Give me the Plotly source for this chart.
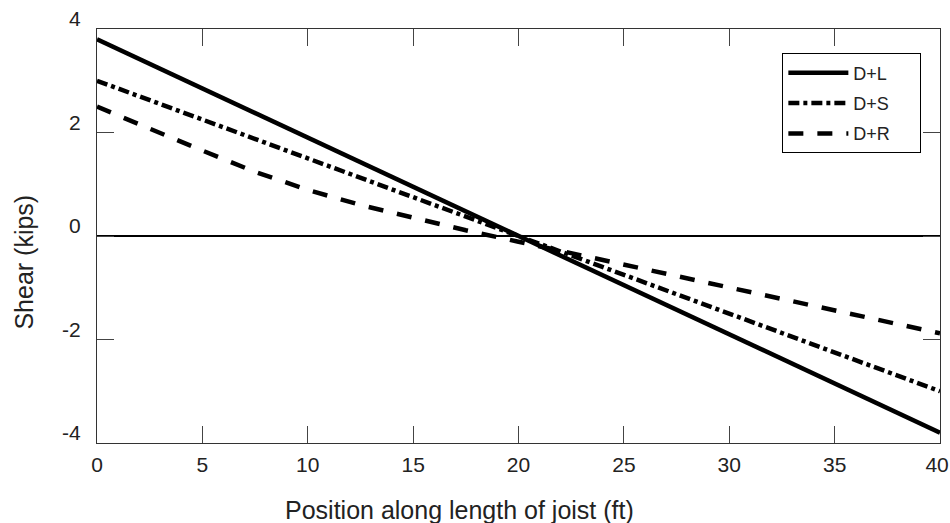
import plotly.graph_objects as go

# shear along the joist
x_ends = [0, 40]
shear_dl = [3.8, -3.8]
shear_ds = [3.0, -3.0]

x_dr = [0, 2.5, 5, 7.5, 10, 12.5, 15, 17.5, 20, 22.5, 25, 27.5, 30, 32.5, 35, 37.5, 40]
shear_dr = [2.5, 2.07, 1.65, 1.24, 0.89, 0.60, 0.35, 0.11, -0.11, -0.33, -0.56,
            -0.78, -1.0, -1.22, -1.44, -1.66, -1.88]

x_ticks = [0, 5, 10, 15, 20, 25, 30, 35, 40]
# last label nudged left so it stays inside the page, like the original
x_tick_labels = ["0", "5", "10", "15", "20", "25", "30", "35", "40\u00a0"]
y_ticks = [-4, -2, 0, 2, 4]
y_tick_labels = ["-4", "-2", "0", "2", "4"]

font = "Liberation Sans, Arial, sans-serif"
pad = "\u00a0" * 5  # widens the legend box a bit

fig = go.Figure()
fig.add_trace(go.Scatter(x=x_ends, y=shear_dl, mode="lines", name="D+L" + pad, legendgroup="a",
                         line=dict(color="black", width=4.5)))
fig.add_trace(go.Scatter(x=x_ends, y=shear_ds, mode="lines", name="D+S" + pad, legendgroup="b",
                         line=dict(color="black", width=4.5, dash="11px,4px,4px,4px")))
fig.add_trace(go.Scatter(x=x_dr, y=shear_dr, mode="lines", name="D+R" + pad, legendgroup="c",
                         line=dict(color="black", width=4.5, dash="15px,14px")))

axis_common = dict(showgrid=False, ticks="inside", ticklen=17, tickwidth=1, tickcolor="#444",
                   showline=True, linecolor="#333", linewidth=1, mirror="ticks",
                   automargin=False, ticklabeloverflow="allow",
                   tickfont=dict(family=font, size=21, color="#222"))

fig.update_xaxes(range=[0, 40], tickvals=x_ticks, ticktext=x_tick_labels, zeroline=False,
                 ticklabelstandoff=3, **axis_common)
fig.update_yaxes(range=[-4, 4], tickvals=y_ticks, ticktext=y_tick_labels, zeroline=True,
                 zerolinecolor="black", zerolinewidth=2, ticklabelstandoff=11,
                 ticklabelshift=-10, **axis_common)

fig.add_annotation(text="Position along length of joist (ft)", xref="paper", yref="paper",
                   x=0.43, y=-0.163, xanchor="center", yanchor="middle", showarrow=False,
                   font=dict(family=font, size=25, color="#222"))
fig.add_annotation(text="Shear (kips)", xref="paper", yref="paper", textangle=-90,
                   x=-0.086, y=0.437, xanchor="center", yanchor="middle", showarrow=False,
                   font=dict(family=font, size=25, color="#222"))

fig.update_layout(
    width=950, height=523,
    margin=dict(l=97, r=10, t=29, b=80),
    plot_bgcolor="white", paper_bgcolor="white",
    legend=dict(x=0.813, y=0.941, xanchor="left", yanchor="top",
                bordercolor="black", borderwidth=1, bgcolor="white",
                font=dict(family=font, size=18, color="#222"),
                tracegroupgap=4, itemwidth=60),
)

fig.write_html("out.html", config={"displayModeBar": False},
               post_script="document.body.style.margin='0';")
